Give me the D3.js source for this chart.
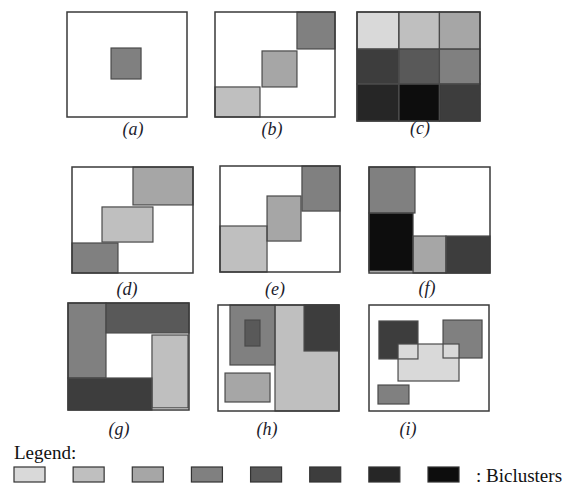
<!DOCTYPE html>
<html>
<head>
<meta charset="utf-8">
<script src="https://cdn.jsdelivr.net/npm/d3@7"></script>
<style>
  body { margin: 0; background: #fff; }
  svg { display: block; }
  text { font-family: "Liberation Serif", "DejaVu Serif", serif; }
</style>
</head>
<body>
<svg id="chart" width="576" height="485"></svg>
<script>
// gray levels shown in the legend, light to dark
const levels = ["#d9d9d9", "#bfbfbf", "#a6a6a6", "#808080", "#595959", "#3d3d3d", "#262626", "#0d0d0d"];

const panelNames = ["a", "b", "c", "d", "e", "f", "g", "h", "i"];

// biclusters per panel: [col start, col end, row start, row end, level] in % of the data matrix
const biclustersA = [[36.7, 61.7, 34.3, 63.8, 4]];
const biclustersB = [
  [0, 37.5, 71.4, 100, 2],
  [39.2, 68.3, 37.1, 71.4, 3],
  [68.3, 100, 0, 35.2, 4]
];
const biclustersC = [
  [0, 34, 0, 34, 1], [34, 67, 0, 34, 2], [67, 100, 0, 34, 3],
  [0, 34, 34, 66, 6], [34, 67, 34, 66, 5], [67, 100, 34, 66, 4],
  [0, 34, 66, 100, 7], [34, 67, 66, 100, 8], [67, 100, 66, 100, 6]
];
const biclustersD = [
  [50.4, 100, 0, 35.8, 3],
  [24.8, 66.9, 37.7, 70.8, 2],
  [0, 38, 71.7, 100, 4]
];
const biclustersE = [
  [0, 39.2, 56.6, 100, 2],
  [39.2, 67.5, 28.3, 70.8, 3],
  [68.3, 100, 0, 42.5, 4]
];
const biclustersF = [
  [0, 38, 0, 43.4, 4],
  [0, 36.4, 43.4, 98, 8],
  [36.4, 63.6, 65.1, 100, 3],
  [63.6, 100, 65.1, 100, 6]
];
const biclustersG = [
  [0, 31.4, 0, 70.1, 4],
  [31.4, 100, 0, 28, 5],
  [69.4, 99.2, 29.9, 98, 2],
  [0, 69.4, 70.1, 100, 6]
];
const biclustersH = [
  [9.9, 47.1, 0, 56.6, 4],
  [22.3, 34.7, 14.2, 38.7, 5],
  [5.8, 43, 64.2, 91.5, 3],
  [47.1, 100, 0, 100, 2],
  [71.1, 100, 0, 43.4, 6]
];
const biclustersI = [
  [8.3, 40.8, 15.1, 50.9, 6],
  [61.7, 94.2, 14.2, 50, 4],
  [24.2, 75, 36.8, 71.7, 1],
  [7.5, 33.3, 75.5, 93.4, 4]
];

const legendLabel = "Legend:";
const legendSuffix = ": Biclusters";

const panelData = [biclustersA, biclustersB, biclustersC, biclustersD, biclustersE,
  biclustersF, biclustersG, biclustersH, biclustersI];

// layout of the nine matrices on the page
const layout = [
  { x: 67, y: 12, w: 120, h: 105, lx: 133, ly: 135 },
  { x: 215, y: 12, w: 120, h: 105, lx: 272, ly: 135 },
  { x: 357, y: 12, w: 123, h: 109, lx: 420, ly: 134 },
  { x: 72, y: 167, w: 121, h: 106, lx: 127, ly: 295 },
  { x: 220, y: 166, w: 120, h: 106, lx: 275, ly: 295 },
  { x: 369, y: 167, w: 121, h: 106, lx: 427, ly: 294 },
  { x: 68, y: 303, w: 121, h: 107, lx: 119, ly: 435 },
  { x: 218, y: 305, w: 121, h: 106, lx: 267, ly: 435 },
  { x: 369, y: 305, w: 120, h: 106, lx: 408, ly: 435 }
];

const svg = d3.select("#chart");
const color = d3.scaleOrdinal().domain(d3.range(1, levels.length + 1)).range(levels);

panelNames.forEach(function (name, i) {
  const L = layout[i];
  const x = d3.scaleLinear().domain([0, 100]).range([L.x, L.x + L.w]);
  const y = d3.scaleLinear().domain([0, 100]).range([L.y, L.y + L.h]);
  const g = svg.append("g").attr("class", "panel-" + name);

  g.append("rect")
    .attr("x", x(0)).attr("y", y(0))
    .attr("width", x(100) - x(0)).attr("height", y(100) - y(0))
    .attr("fill", "#fff");

  // fills first, outlines afterwards so overlapping edges stay visible
  g.selectAll("rect.fill")
    .data(panelData[i])
    .enter().append("rect")
    .attr("class", "fill")
    .attr("x", d => x(d[0])).attr("y", d => y(d[2]))
    .attr("width", d => x(d[1]) - x(d[0]))
    .attr("height", d => y(d[3]) - y(d[2]))
    .attr("fill", d => color(d[4]));

  g.selectAll("rect.edge")
    .data(panelData[i])
    .enter().append("rect")
    .attr("class", "edge")
    .attr("x", d => x(d[0])).attr("y", d => y(d[2]))
    .attr("width", d => x(d[1]) - x(d[0]))
    .attr("height", d => y(d[3]) - y(d[2]))
    .attr("fill", "none")
    .attr("stroke", "#4a4a4a")
    .attr("stroke-width", 1.2);

  g.append("rect")
    .attr("x", x(0)).attr("y", y(0))
    .attr("width", x(100) - x(0)).attr("height", y(100) - y(0))
    .attr("fill", "none")
    .attr("stroke", "#3a3a3a")
    .attr("stroke-width", 1.5);

  g.append("text")
    .attr("x", L.lx).attr("y", L.ly)
    .attr("text-anchor", "middle")
    .style("font-style", "italic")
    .style("font-size", "18px")
    .attr("fill", "#1c1c2c")
    .text("(" + name + ")");
});

// legend
svg.append("text")
  .attr("x", 14).attr("y", 459)
  .style("font-size", "19px")
  .attr("fill", "#111")
  .text(legendLabel);

const legendX = d3.scalePoint().domain(d3.range(1, levels.length + 1)).range([14, 428]);

svg.selectAll("rect.swatch")
  .data(d3.range(1, levels.length + 1))
  .enter().append("rect")
  .attr("class", "swatch")
  .attr("x", d => legendX(d)).attr("y", 467)
  .attr("width", 31).attr("height", 15)
  .attr("fill", d => color(d))
  .attr("stroke", "#333")
  .attr("stroke-width", 1.2);

svg.append("text")
  .attr("x", 476).attr("y", 482)
  .style("font-size", "19px")
  .attr("fill", "#111")
  .text(legendSuffix);
</script>
</body>
</html>
